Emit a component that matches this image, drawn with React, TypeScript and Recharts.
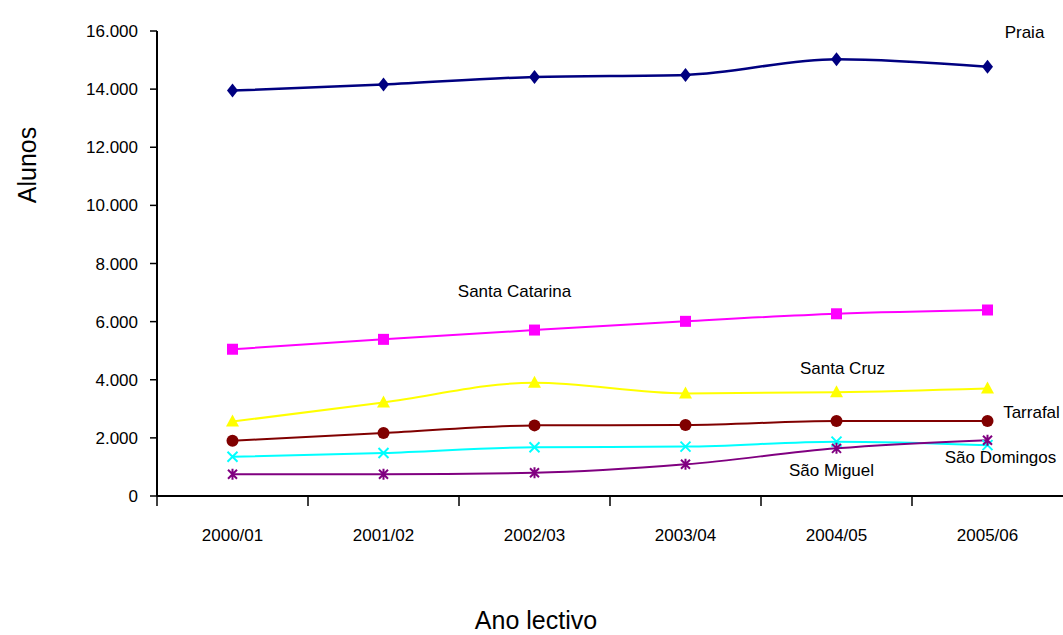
import React from "react"
import { LineChart, Line, XAxis, YAxis, ReferenceDot } from "recharts"

const categories = ["2000/01", "2001/02", "2002/03", "2003/04", "2004/05", "2005/06"]
const praia = [13950, 14160, 14420, 14490, 15030, 14770]
const santaCatarina = [5050, 5390, 5710, 6010, 6270, 6400]
const santaCruz = [2560, 3220, 3900, 3530, 3570, 3700]
const tarrafal = [1900, 2170, 2430, 2440, 2580, 2580]
const saoDomingos = [1350, 1480, 1680, 1700, 1870, 1750]
const saoMiguel = [750, 750, 800, 1090, 1640, 1920]
const yTicks = [0, 2000, 4000, 6000, 8000, 10000, 12000, 14000, 16000]

// where each series name sits: category, value, and a small sideways nudge
const seriesLabels = [
  { text: "Praia", at: "2005/06", value: 15960, dx: 37 },
  { text: "Santa Catarina", at: "2002/03", value: 7020, dx: -20 },
  { text: "Santa Cruz", at: "2004/05", value: 4400, dx: 6 },
  { text: "Tarrafal", at: "2005/06", value: 2890, dx: 44 },
  { text: "São Domingos", at: "2005/06", value: 1340, dx: 13 },
  { text: "São Miguel", at: "2004/05", value: 890, dx: -5 },
]

const series = [
  { key: "praia", values: praia, color: "#000080", shape: "diamond" },
  { key: "santaCatarina", values: santaCatarina, color: "#FF00FF", shape: "square" },
  { key: "santaCruz", values: santaCruz, color: "#FFFF00", shape: "triangle" },
  { key: "tarrafal", values: tarrafal, color: "#800000", shape: "circle" },
  { key: "saoDomingos", values: saoDomingos, color: "#00FFFF", shape: "x" },
  { key: "saoMiguel", values: saoMiguel, color: "#800080", shape: "star" },
]

const data = categories.map((year, i) => {
  const row: Record<string, string | number> = { year }
  series.forEach((s) => (row[s.key] = s.values[i]))
  return row
})

const FONT = "'Liberation Sans', Arial, sans-serif"

const fmt = (v: number) => String(v).replace(/\B(?=(\d{3})+(?!\d))/g, ".")

function Marker({ cx, cy, shape, color }: any) {
  if (cx == null || cy == null) return null
  switch (shape) {
    case "diamond":
      return <polygon points={`${cx},${cy - 7} ${cx + 5.5},${cy} ${cx},${cy + 7} ${cx - 5.5},${cy}`} fill={color} />
    case "square":
      return <rect x={cx - 5.5} y={cy - 5.5} width={11} height={11} fill={color} />
    case "triangle":
      return <polygon points={`${cx},${cy - 7} ${cx + 6.5},${cy + 5} ${cx - 6.5},${cy + 5}`} fill={color} />
    case "circle":
      return <circle cx={cx} cy={cy} r={6} fill={color} />
    case "x":
      return (
        <path
          d={`M${cx - 5},${cy - 5}L${cx + 5},${cy + 5}M${cx - 5},${cy + 5}L${cx + 5},${cy - 5}`}
          stroke={color}
          strokeWidth={2}
        />
      )
    default:
      return (
        <path
          d={`M${cx - 4.5},${cy - 4.5}L${cx + 4.5},${cy + 4.5}M${cx - 4.5},${cy + 4.5}L${cx + 4.5},${cy - 4.5}M${cx},${cy - 5.5}L${cx},${cy + 5.5}`}
          stroke={color}
          strokeWidth={2}
        />
      )
  }
}

// excel style: tick marks between categories, label under the middle
function YearTick(props: any) {
  const { x, y, payload } = props
  const half = payload && payload.offset ? payload.offset : 75.5
  return (
    <g>
      <line x1={x - half} x2={x - half} y1={y} y2={y + 10} stroke="#000" strokeWidth={1.5} />
      <text x={x} y={y + 39} textAnchor="middle" dominantBaseline="central" fontSize={17} fontFamily={FONT} fill="#000">
        {payload.value}
      </text>
    </g>
  )
}

export default function App() {
  return (
    <div style={{ position: "absolute", left: 0, top: 0, width: 1063, height: 635, background: "#fff" }}>
      <LineChart width={1063} height={635} data={data} margin={{ top: 31, right: 0, left: 0, bottom: 79 }}>
        <XAxis
          dataKey="year"
          scale="band"
          height={60}
          tickSize={0}
          tickMargin={0}
          tickLine={false}
          axisLine={{ stroke: "#000", strokeWidth: 2 }}
          tick={<YearTick />}
          interval={0}
        />
        <YAxis
          width={157}
          domain={[0, 16000]}
          ticks={yTicks}
          interval={0}
          tickFormatter={fmt}
          tickSize={7}
          tickMargin={12}
          axisLine={{ stroke: "#000", strokeWidth: 2 }}
          tickLine={{ stroke: "#000", strokeWidth: 1.5 }}
          tick={{ fill: "#000", fontSize: 17, fontFamily: FONT }}
        />
        {series.map((s) => (
          <Line
            key={s.key}
            dataKey={s.key}
            type="monotone"
            stroke={s.color}
            strokeWidth={s.key === "praia" ? 2.5 : 2}
            isAnimationActive={false}
            dot={(p: any) => <Marker key={`${s.key}-${p.index}`} cx={p.cx} cy={p.cy} shape={s.shape} color={s.color} />}
            activeDot={false}
          />
        ))}
        {seriesLabels.map((l) => (
          <ReferenceDot
            key={l.text}
            x={l.at}
            y={l.value}
            r={0}
            ifOverflow="visible"
            shape={(p: any) => (
              <text
                x={p.cx + l.dx}
                y={p.cy}
                textAnchor="middle"
                dominantBaseline="central"
                fontSize={17}
                fontFamily={FONT}
                fill="#000"
              >
                {l.text}
              </text>
            )}
          />
        ))}
      </LineChart>
      <div
        style={{
          position: "absolute",
          left: 27,
          top: 165,
          transform: "translate(-50%, -50%) rotate(-90deg)",
          fontFamily: FONT,
          fontSize: 25,
          lineHeight: 1,
          whiteSpace: "nowrap",
        }}
      >
        Alunos
      </div>
      <div
        style={{
          position: "absolute",
          left: 536,
          top: 620,
          transform: "translate(-50%, -50%)",
          fontFamily: FONT,
          fontSize: 25,
          lineHeight: 1,
          whiteSpace: "nowrap",
        }}
      >
        Ano lectivo
      </div>
    </div>
  )
}
